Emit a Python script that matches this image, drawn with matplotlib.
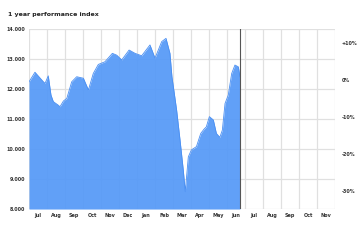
import numpy as np
import matplotlib.pyplot as plt

# month labels (Jul .. Nov of next year), gridlines at month boundaries
months = ["Jul", "Aug", "Sep", "Oct", "Nov", "Dec", "Jan", "Feb", "Mar",
          "Apr", "May", "Jun", "Jul", "Aug", "Sep", "Oct", "Nov"]

# time in months since start of first Jul, index value
t = [0.0, 0.33, 0.8, 0.89, 1.07, 1.22, 1.35, 1.63, 1.72, 1.91, 2.1, 2.37,
     2.65, 3.02, 3.30, 3.57, 3.85, 4.22, 4.63, 4.87, 5.15, 5.56, 5.89, 6.26,
     6.72, 7.0, 7.37, 7.61, 7.83, 7.94, 8.07, 8.2, 8.39, 8.57, 8.68, 8.85,
     9.02, 9.3, 9.54, 9.72, 9.85, 10.02, 10.24, 10.41, 10.6, 10.74, 10.89,
     11.07, 11.26, 11.44, 11.63, 11.72]
value = [12240, 12560, 12240, 12190, 12440, 11800, 11580, 11460, 11410,
         11600, 11690, 12240, 12410, 12360, 11970, 12520, 12820, 12910, 13190,
         13130, 12970, 13300, 13190, 13110, 13470, 13030, 13580, 13690, 13190,
         12410, 11860, 11300, 10300, 9300, 8580, 9740, 9970, 10080, 10520,
         10660, 10740, 11080, 10970, 10520, 10390, 10630, 11520, 11800, 12520,
         12800, 12740, 12410]

base = 12300  # 0% level of the right axis
pct_ticks = [10, 0, -10, -20, -30]
pct_labels = ["+10%", "0%", "-10%", "-20%", "-30%"]
y_ticks = [8000, 9000, 10000, 11000, 12000, 13000, 14000]

fig = plt.figure(figsize=(3.6, 2.4), dpi=100)
ax = fig.add_axes([0.0806, 0.129, 0.85, 0.75])

ax.set_xlim(0, len(months))
ax.set_ylim(8000, 14000)

# grid at month boundaries, labels in the middle of each month
ax.set_xticks(np.arange(0, len(months) + 1))
ax.set_xticklabels([])
ax.set_xticks(np.arange(len(months)) + 0.5, minor=True)
ax.set_xticklabels(months, minor=True, fontsize=3.5, fontweight="bold", color="#333333")
ax.set_yticks(y_ticks)
ax.set_yticklabels([f"{v // 1000}.000" for v in y_ticks], fontsize=3.5,
                   fontweight="bold", color="#333333")
ax.tick_params(which="both", length=0, pad=3)
ax.grid(True, which="major", color="#e0e0e0", linewidth=0.9)
for s in ax.spines.values():
    s.set_visible(False)
ax.set_axisbelow(True)

ax.fill_between(t, value, 8000, color="#5599f7", alpha=0.93, linewidth=0)
ax.plot(t, value, color="#4a8ff2", linewidth=0.6)
ax.axvline(t[-1], color="#555555", linewidth=0.8)

ax2 = ax.twinx()
ax2.set_ylim(ax.get_ylim())
ax2.set_yticks([base * (1 + p / 100) for p in pct_ticks])
ax2.set_yticklabels(pct_labels, fontsize=3.5, fontweight="bold", color="#333333")
ax2.tick_params(length=0, pad=5)
for s in ax2.spines.values():
    s.set_visible(False)

fig.text(0.022, 0.935, "1 year performance index", fontsize=4.5, fontweight="bold",
         color="#222222")

fig.savefig("out.png", dpi=100)
